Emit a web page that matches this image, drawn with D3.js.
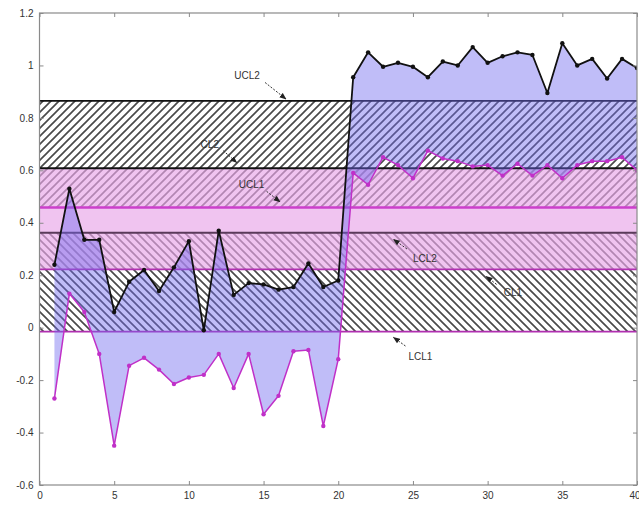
<!DOCTYPE html>
<html>
<head>
<meta charset="utf-8">
<script src="https://cdn.jsdelivr.net/npm/d3@7"></script>
<style>
  body { margin: 0; background: #fff; }
  svg text { font-family: "Liberation Sans", Arial, sans-serif; }
</style>
</head>
<body>
<div id="chart"></div>
<script>
// sample numbers
var samples = [1,2,3,4,5,6,7,8,9,10,11,12,13,14,15,16,17,18,19,20,
               21,22,23,24,25,26,27,28,29,30,31,32,33,34,35,36,37,38,39,40];

// chart 2 statistic (black)
var seriesBlack = [0.24,0.53,0.335,0.335,0.06,0.175,0.22,0.14,0.23,0.33,
                   -0.01,0.37,0.125,0.17,0.165,0.145,0.155,0.245,0.155,0.18,
                   0.955,1.05,0.995,1.01,0.995,0.955,1.015,1.0,1.07,1.01,
                   1.035,1.05,1.04,0.895,1.085,1.0,1.025,0.95,1.025,0.99];

// chart 1 statistic (magenta)
var seriesMagenta = [-0.27,0.13,0.06,-0.10,-0.45,-0.145,-0.115,-0.16,-0.215,-0.19,
                     -0.18,-0.10,-0.23,-0.10,-0.33,-0.26,-0.09,-0.085,-0.375,-0.12,
                     0.59,0.545,0.65,0.62,0.57,0.675,0.645,0.635,0.615,0.62,
                     0.58,0.625,0.58,0.62,0.57,0.62,0.635,0.635,0.65,0.6];

// control limits
var limitNames  = ["UCL2", "CL2", "LCL2", "UCL1", "CL1", "LCL1"];
var limitValues = [0.865, 0.608, 0.362, 0.458, 0.222, -0.015];

// axis ticks
var xTicks = [0,5,10,15,20,25,30,35,40];
var yTicks = [-0.6,-0.4,-0.2,0,0.2,0.4,0.6,0.8,1,1.2];
var yTickLabels = ["-0.6","-0.4","-0.2","0","0.2","0.4","0.6","0.8","1","1.2"];

// annotation arrows: label, text pos, arrow tail, arrow head (data units)
var notes = [
  { label: "UCL2", tx: 13.9, ty: 0.96,  x1: 15.1, y1: 0.935, x2: 16.5, y2: 0.872 },
  { label: "CL2",  tx: 11.4, ty: 0.70,  x1: 12.3, y1: 0.675, x2: 13.2, y2: 0.63 },
  { label: "UCL1", tx: 14.2, ty: 0.545, x1: 15.2, y1: 0.52,  x2: 16.1, y2: 0.48 },
  { label: "LCL2", tx: 25.8, ty: 0.265, x1: 24.6, y1: 0.30,  x2: 23.7, y2: 0.337 },
  { label: "CL1",  tx: 31.7, ty: 0.135, x1: 30.6, y1: 0.165, x2: 29.9, y2: 0.195 },
  { label: "LCL1", tx: 25.5, ty: -0.11, x1: 24.5, y1: -0.07, x2: 23.7, y2: -0.037 }
];

var width = 639, height = 505;
var margin = { left: 39.5, right: 2, top: 13, bottom: 20 };

var x = d3.scaleLinear().domain([0, 40]).range([margin.left, width - margin.right]);
var y = d3.scaleLinear().domain([-0.6, 1.2]).range([height - margin.bottom, margin.top]);

var lim = {};
limitNames.forEach(function(n, i) { lim[n] = limitValues[i]; });

var svg = d3.select("#chart").append("svg")
  .attr("width", width)
  .attr("height", height);

var defs = svg.append("defs");

defs.append("clipPath").attr("id", "plotclip")
  .append("rect")
  .attr("x", x(0)).attr("y", y(1.2))
  .attr("width", x(40) - x(0)).attr("height", y(-0.6) - y(1.2));

function hatch(id, d) {
  var p = defs.append("pattern")
    .attr("id", id)
    .attr("patternUnits", "userSpaceOnUse")
    .attr("width", 8).attr("height", 8);
  p.append("path")
    .attr("d", d)
    .style("stroke", "#4a4a4a")
    .style("stroke-width", 1.7)
    .style("fill", "none");
}
hatch("hatchUp", "M-1,1 l2,-2 M0,8 l8,-8 M7,9 l2,-2");
hatch("hatchDown", "M-1,7 l2,2 M0,0 l8,8 M7,-1 l2,2");

var plot = svg.append("g").attr("clip-path", "url(#plotclip)");

function band(lo, hi) {
  return plot.append("rect")
    .attr("x", x(0))
    .attr("width", x(40) - x(0))
    .attr("y", y(hi))
    .attr("height", y(lo) - y(hi));
}

// hatched zones
band(lim.UCL1, lim.UCL2).style("fill", "url(#hatchUp)");
band(lim.LCL1, lim.LCL2).style("fill", "url(#hatchDown)");

// pink zone between the centre lines
band(lim.CL1, lim.CL2)
  .style("fill", "#e8a6e8")
  .style("fill-opacity", 0.66);

// control limit lines
var limitColor = { UCL2: "#111", CL2: "#111", LCL2: "#5a3a5a", UCL1: "#cc3fcc", CL1: "#b030b0", LCL1: "#b030b0" };
var limitWidth = { UCL2: 1.8, CL2: 1.8, LCL2: 1.8, UCL1: 2.4, CL1: 1.8, LCL1: 1.8 };
limitNames.forEach(function(n) {
  plot.append("line")
    .attr("x1", x(0)).attr("x2", x(40))
    .attr("y1", y(lim[n])).attr("y2", y(lim[n]))
    .style("stroke", limitColor[n])
    .style("stroke-width", limitWidth[n]);
});

// blue area between the two statistics
var pts = samples.map(function(s, i) { return { s: s, b: seriesBlack[i], m: seriesMagenta[i] }; });

var area = d3.area()
  .x(function(d) { return x(d.s); })
  .y0(function(d) { return y(d.m); })
  .y1(function(d) { return y(d.b); });

plot.append("path")
  .datum(pts)
  .attr("d", area)
  .style("fill", "#7068ee")
  .style("fill-opacity", 0.44);

// the two series
function series(key, color, w) {
  var line = d3.line()
    .x(function(d) { return x(d.s); })
    .y(function(d) { return y(d[key]); });
  plot.append("path")
    .datum(pts)
    .attr("d", line)
    .style("fill", "none")
    .style("stroke", color)
    .style("stroke-width", w)
    .style("stroke-linejoin", "round");
  plot.selectAll(".dot-" + key)
    .data(pts).enter().append("circle")
    .attr("class", "dot-" + key)
    .attr("cx", function(d) { return x(d.s); })
    .attr("cy", function(d) { return y(d[key]); })
    .attr("r", 2.2)
    .style("fill", color);
}
series("m", "#c030c8", 1.5);
series("b", "#111", 1.8);

// annotations
defs.append("marker")
  .attr("id", "arrowhead")
  .attr("viewBox", "0 0 10 10")
  .attr("refX", 9).attr("refY", 5)
  .attr("markerWidth", 7).attr("markerHeight", 7)
  .attr("markerUnits", "userSpaceOnUse")
  .attr("orient", "auto")
  .append("path")
  .attr("d", "M0,1 L10,5 L0,9 Z")
  .style("fill", "#222");

var ann = svg.append("g");
notes.forEach(function(n) {
  ann.append("line")
    .attr("x1", x(n.x1)).attr("y1", y(n.y1))
    .attr("x2", x(n.x2)).attr("y2", y(n.y2))
    .style("stroke", "#333")
    .style("stroke-width", 1)
    .style("stroke-dasharray", "2 1.5")
    .attr("marker-end", "url(#arrowhead)");
  ann.append("text")
    .attr("x", x(n.tx)).attr("y", y(n.ty))
    .attr("text-anchor", "middle")
    .attr("dy", "0.35em")
    .style("font-size", "10px")
    .style("fill", "#333")
    .text(n.label);
});

// frame and ticks
var axes = svg.append("g");
axes.append("rect")
  .attr("x", x(0)).attr("y", y(1.2))
  .attr("width", x(40) - x(0)).attr("height", y(-0.6) - y(1.2))
  .style("fill", "none")
  .style("stroke", "#8a8a8a")
  .style("stroke-width", 1.2);

axes.append("g")
  .attr("transform", "translate(0," + y(-0.6) + ")")
  .call(d3.axisBottom(x).tickValues(xTicks).tickSize(-4).tickPadding(7).tickFormat(d3.format("d")))
  .call(function(g) { g.select(".domain").remove(); })
  .call(function(g) {
    // keep the last label inside the window
    g.selectAll(".tick text").filter(function(d) { return d === 40; })
      .attr("text-anchor", "end").attr("dx", "0.3em");
  });

axes.append("g")
  .attr("transform", "translate(0," + y(1.2) + ")")
  .call(d3.axisTop(x).tickValues(xTicks).tickSize(-4).tickFormat(""))
  .call(function(g) { g.select(".domain").remove(); });

axes.append("g")
  .attr("transform", "translate(" + x(0) + ",0)")
  .call(d3.axisLeft(y).tickValues(yTicks).tickSize(-4).tickPadding(6)
    .tickFormat(function(d, i) { return yTickLabels[i]; }))
  .call(function(g) { g.select(".domain").remove(); });

axes.append("g")
  .attr("transform", "translate(" + x(40) + ",0)")
  .call(d3.axisRight(y).tickValues(yTicks).tickSize(-4).tickFormat(""))
  .call(function(g) { g.select(".domain").remove(); });

axes.selectAll(".tick line").style("stroke", "#8a8a8a");
axes.selectAll(".tick text")
  .style("font-size", "10px")
  .style("fill", "#333")
  .style("font-family", "'Liberation Sans', Arial, sans-serif");
</script>
</body>
</html>
